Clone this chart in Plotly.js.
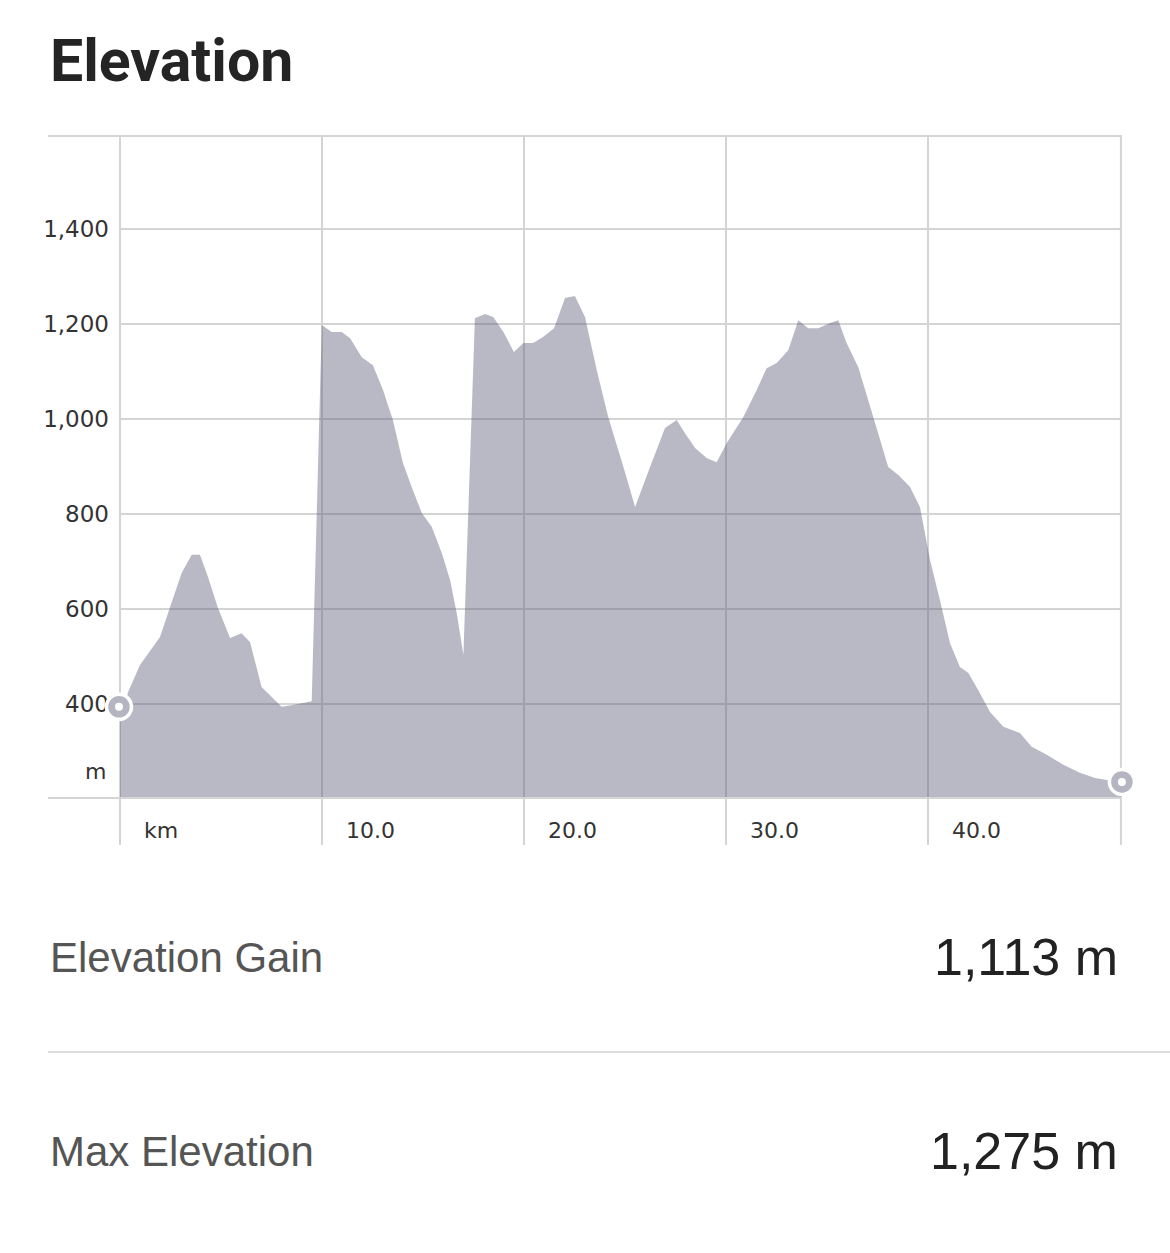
<!DOCTYPE html>
<html>
<head>
<meta charset="utf-8">
<script src="https://cdn.plot.ly/plotly-3.0.1.min.js"></script>
<style>html,body{margin:0;padding:0;background:#fff;}#chart{width:1170px;height:1253px;}</style>
</head>
<body>
<div id="chart"></div>
<script>
// ---- data ----
const distanceKm = [0,0.40,0.99,1.98,2.48,3.05,3.55,3.96,4.36,4.85,5.45,6.02,6.44,7.01,8.00,8.56,9.49,9.99,10.48,10.98,11.39,11.97,12.52,13.02,13.51,14.01,14.44,14.94,15.43,15.93,16.34,16.67,17.00,17.57,18.07,18.48,18.98,19.50,19.97,20.46,20.96,21.49,22.03,22.52,23.02,23.60,24.17,25.00,25.50,26.24,26.98,27.56,27.97,28.47,29.04,29.54,30.03,30.86,31.52,32.01,32.51,33.08,33.58,34.07,34.57,35.15,35.56,35.97,36.55,37.29,38.03,38.53,39.11,39.60,40.10,40.59,41.09,41.58,42.00,42.49,43.07,43.73,44.55,45.13,45.88,46.70,47.52,48.27,48.85,49.55];
const elevationM = [360,425,482,541,604,676,714,714,667,602,539,549,530,436,394,398,406,1198,1183,1183,1170,1130,1113,1061,998,907,857,802,773,718,661,591,503,1212,1221,1215,1183,1141,1160,1160,1173,1191,1255,1259,1215,1103,1004,888,815,899,981,998,970,939,918,909,949,1004,1061,1107,1118,1145,1208,1191,1191,1202,1208,1160,1109,1004,899,882,857,815,703,619,528,478,465,429,383,352,339,310,293,272,255,244,240,238];
const endpointKm = [-0.05, 49.6];
const endpointM = [394, 236];
const xTickVals = [0, 10, 20, 30, 40];
const xTickText = ['km', '10.0', '20.0', '30.0', '40.0'];
const routeEndKm = 49.55;
const yTickVals = [400, 600, 800, 1000, 1200, 1400];
const yTickText = ['400', '600', '800', '1,000', '1,200', '1,400'];
const unitM = 257;
const statLabels = ['Elevation Gain', 'Max Elevation'];
const statValues = ['1,113 m', '1,275 m'];

// ---- layout helpers (pixel positions) ----
const W = 1170, H = 1253;
const L = 48, R = 48, T = 137, B = 456;
const plotW = W - L - R, plotH = H - T - B;
const pxPerKm = 20.2;
const xMin = -(120 - L) / pxPerKm;
const xMax = xMin + plotW / pxPerKm;
const yMin = 204.2, yMax = 1593.7;
const py = p => (H - B - p) / plotH;      // page y pixel -> paper y
const pxX = p => (p - L) / plotW;         // page x pixel -> paper x

const gridColor = '#d4d4d4';
const fillColor = 'rgba(84,84,113,0.41)';
const markerGrey = '#b5b5c2';

const traces = [
  {
    x: distanceKm, y: elevationM, type: 'scatter', mode: 'none',
    fill: 'tozeroy', fillcolor: fillColor, hoverinfo: 'skip', showlegend: false
  },
  {
    x: endpointKm, y: endpointM, type: 'scatter', mode: 'markers', cliponaxis: false,
    marker: {size: 25, color: markerGrey, line: {color: '#ffffff', width: 3.5}},
    hoverinfo: 'skip', showlegend: false
  },
  {
    x: endpointKm, y: endpointM, type: 'scatter', mode: 'markers', cliponaxis: false,
    marker: {size: 8, color: '#ffffff'}, hoverinfo: 'skip', showlegend: false
  }
];

const shapes = [];
// vertical grid lines (extend below the axis into the label band)
xTickVals.concat([routeEndKm]).forEach(v => {
  shapes.push({type: 'line', xref: 'x', yref: 'paper', x0: v, x1: v, y0: py(845), y1: 1,
    line: {color: gridColor, width: 2}, layer: 'below'});
});
// horizontal grid lines (only across the data span)
yTickVals.forEach(v => {
  shapes.push({type: 'line', xref: 'x', yref: 'y', x0: 0, x1: routeEndKm, y0: v, y1: v,
    line: {color: gridColor, width: 2}, layer: 'below'});
});
// separator between stats
shapes.push({type: 'line', xref: 'paper', yref: 'paper', x0: 0, x1: pxX(1170), y0: py(1052), y1: py(1052),
  line: {color: '#dcdcdc', width: 2}});

const annotations = [];
xTickVals.forEach((v, i) => {
  annotations.push({x: v, xref: 'x', y: py(830), yref: 'paper', text: xTickText[i], showarrow: false,
    xanchor: 'left', yanchor: 'middle', xshift: 22,
    font: {family: 'DejaVu Sans', size: 22, color: '#333333'}});
});
annotations.push({x: 0, xref: 'x', y: unitM, yref: 'y', text: 'm', showarrow: false,
  xanchor: 'right', yanchor: 'middle', xshift: -12,
  font: {family: 'DejaVu Sans', size: 22, color: '#333333'}});
const statY = [957, 1151];
statLabels.forEach((s, i) => {
  annotations.push({x: 0, xref: 'paper', y: py(statY[i]), yref: 'paper', text: s, showarrow: false,
    xanchor: 'left', yanchor: 'middle',
    font: {family: 'Liberation Sans, Arial, sans-serif', size: 42, color: '#555555'}});
  annotations.push({x: pxX(1120), xref: 'paper', y: py(statY[i]), yref: 'paper', text: statValues[i], showarrow: false,
    xanchor: 'right', yanchor: 'middle',
    font: {family: 'Liberation Sans, Arial, sans-serif', size: 52, color: '#222222'}});
});

const layout = {
  width: W, height: H,
  margin: {l: L, r: R, t: T, b: B, pad: 0},
  paper_bgcolor: '#ffffff', plot_bgcolor: '#ffffff',
  title: {
    text: '<b>Elevation</b>', xref: 'container', yref: 'container',
    x: 50 / W, xanchor: 'left', y: 1 - 60 / H, yanchor: 'middle', pad: {l: 0, t: 0},
    font: {family: 'Roboto, sans-serif', size: 59, color: '#242424'}
  },
  xaxis: {
    range: [xMin, xMax], showgrid: false, zeroline: false, showticklabels: false, ticks: '',
    showline: true, mirror: true, linecolor: gridColor, linewidth: 2, layer: 'below traces', fixedrange: true
  },
  yaxis: {
    range: [yMin, yMax], anchor: 'free', position: (120 - L) / plotW,
    tickvals: yTickVals, ticktext: yTickText, ticks: '', showline: false, zeroline: false,
    showgrid: false,
    ticklabelstandoff: 11, layer: 'below traces',
    tickfont: {family: 'DejaVu Sans', size: 23, color: '#333333'}, fixedrange: true
  },
  shapes: shapes,
  annotations: annotations,
  showlegend: false
};

Plotly.newPlot('chart', traces, layout, {staticPlot: true, displayModeBar: false});
</script>
</body>
</html>
